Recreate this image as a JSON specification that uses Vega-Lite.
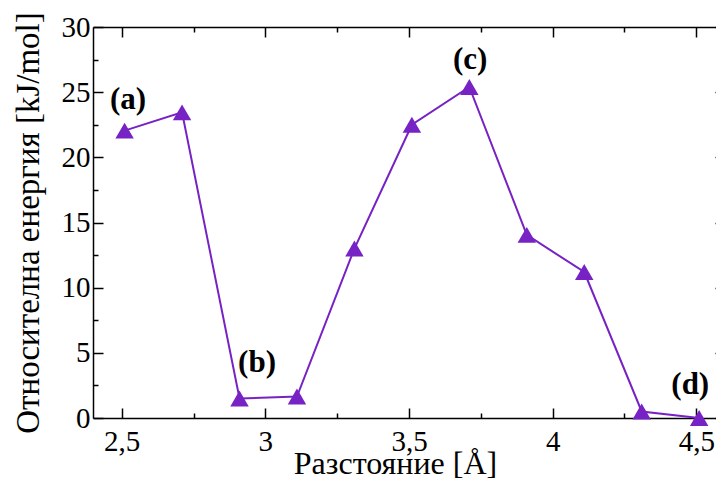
{
  "$schema": "https://vega.github.io/schema/vega-lite/v6.json",
  "autosize": "none",
  "width": 632,
  "height": 391,
  "padding": {"left": 93, "top": 27, "right": 0, "bottom": 62},
  "background": "white",
  "config": {
    "view": {"stroke": null},
    "font": "Liberation Serif",
    "axis": {
      "domainColor": "black",
      "domainWidth": 1.5,
      "tickColor": "black",
      "tickWidth": 1.5,
      "grid": false,
      "labelFont": "Liberation Serif",
      "titleFont": "Liberation Serif",
      "labelColor": "black",
      "titleColor": "black",
      "labelFontSize": 29,
      "titleFontSize": 32,
      "titleFontWeight": "normal"
    }
  },
  "datasets": {
    "pts": [
      {"r": 2.51, "e": 22.05},
      {"r": 2.71, "e": 23.45},
      {"r": 2.91, "e": 1.5},
      {"r": 3.11, "e": 1.65},
      {"r": 3.31, "e": 13.0},
      {"r": 3.51, "e": 22.5},
      {"r": 3.71, "e": 25.4},
      {"r": 3.91, "e": 14.05},
      {"r": 4.11, "e": 11.2},
      {"r": 4.31, "e": 0.5},
      {"r": 4.51, "e": 0.0}
    ],
    "labels": [
      {"r": 2.522, "e": 24.4, "t": "(a)"},
      {"r": 2.971, "e": 4.2, "t": "(b)"},
      {"r": 3.713, "e": 27.5, "t": "(c)"},
      {"r": 4.479, "e": 2.5, "t": "(d)"}
    ]
  },
  "layer": [
    {
      "data": {"name": "pts"},
      "mark": {"type": "line", "color": "#7722c4", "strokeWidth": 2},
      "encoding": {
        "x": {
          "field": "r", "type": "quantitative",
          "scale": {"domain": [2.4, 4.6], "nice": false, "zero": false},
          "axis": {
            "orient": "bottom",
            "values": [2.5, 2.75, 3, 3.25, 3.5, 3.75, 4, 4.25, 4.5],
            "tickSize": {"condition": {"test": "datum.value % 0.5 === 0", "value": -10}, "value": -5},
            "labelExpr": "datum.value % 0.5 === 0 ? replace(format(datum.value, '~g'), '.', ',') : ''",
            "labelPadding": 19,
            "title": "Разстояние [Å]",
            "titleX": 302,
            "titlePadding": -8
          }
        },
        "y": {
          "field": "e", "type": "quantitative",
          "scale": {"domain": [0, 30], "nice": false},
          "axis": {
            "orient": "left",
            "values": [0, 2.5, 5, 7.5, 10, 12.5, 15, 17.5, 20, 22.5, 25, 27.5, 30],
            "tickSize": {"condition": {"test": "datum.value % 5 === 0", "value": -10}, "value": -5},
            "labelExpr": "datum.value % 5 === 0 ? datum.label : ''",
            "labelPadding": 13,
            "title": "Относителна енергия [kJ/mol]",
            "titleFontSize": 33,
            "titlePadding": 16
          }
        }
      }
    },
    {
      "data": {"name": "pts"},
      "mark": {"type": "point", "shape": "triangle-up", "filled": true, "size": 340, "color": "#7722c4", "opacity": 1},
      "encoding": {
        "x": {
          "field": "r", "type": "quantitative",
          "axis": {
            "orient": "top",
            "values": [2.5, 2.75, 3, 3.25, 3.5, 3.75, 4, 4.25, 4.5],
            "tickSize": {"condition": {"test": "datum.value % 0.5 === 0", "value": -10}, "value": -5},
            "labels": false,
            "title": null
          }
        },
        "y": {
          "field": "e", "type": "quantitative",
          "axis": {
            "orient": "right",
            "values": [0, 2.5, 5, 7.5, 10, 12.5, 15, 17.5, 20, 22.5, 25, 27.5, 30],
            "tickSize": {"condition": {"test": "datum.value % 5 === 0", "value": -10}, "value": -5},
            "labels": false,
            "title": null
          }
        }
      }
    },
    {
      "data": {"name": "labels"},
      "mark": {"type": "text", "font": "Liberation Serif", "fontWeight": "bold", "fontSize": 31, "color": "black", "align": "center", "baseline": "middle"},
      "encoding": {
        "x": {"field": "r", "type": "quantitative", "axis": null},
        "y": {"field": "e", "type": "quantitative", "axis": null},
        "text": {"field": "t"}
      }
    }
  ],
  "resolve": {"axis": {"x": "independent", "y": "independent"}}
}
